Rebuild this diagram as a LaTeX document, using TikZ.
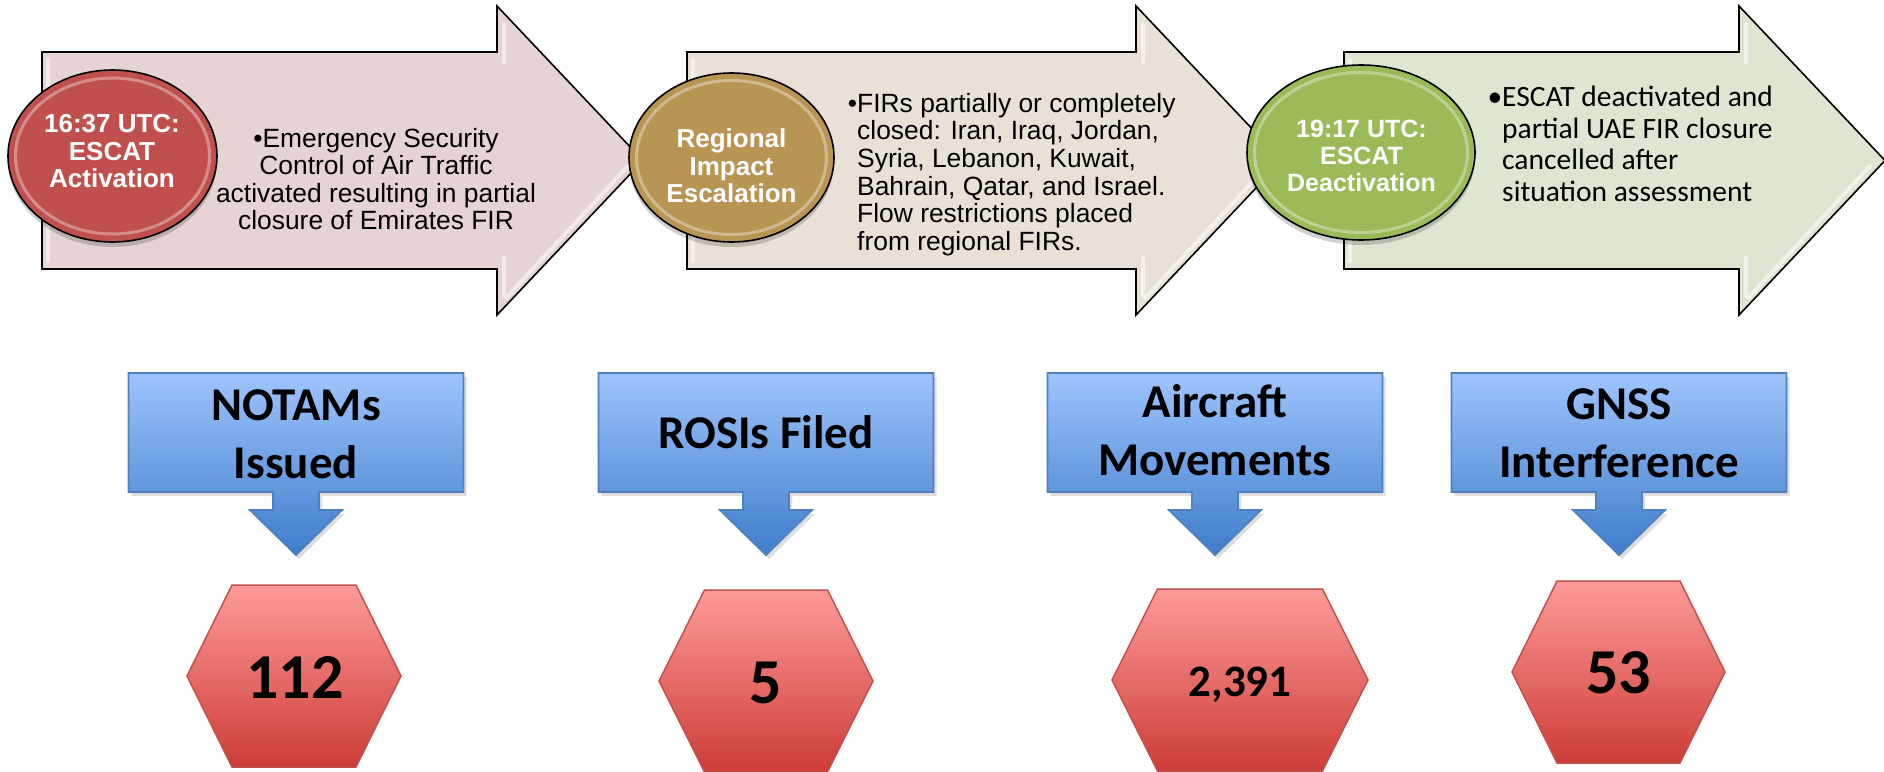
\documentclass[tikz,border=0pt]{standalone}
\usepackage{fontspec}
\newfontfamily\arialf{Liberation Sans}
\newfontfamily\calibrif{Carlito}
\definecolor{arrowA}{RGB}{230,211,212}
\definecolor{arrowB}{RGB}{233,225,213}
\definecolor{arrowC}{RGB}{222,230,209}
\definecolor{circA}{RGB}{192,80,77}
\definecolor{circB}{RGB}{185,149,83}
\definecolor{circC}{RGB}{155,187,89}
\definecolor{blueTop}{RGB}{158,196,253}
\definecolor{blueBot}{RGB}{62,125,202}
\definecolor{blueEdge}{RGB}{79,129,189}
\definecolor{hexTop}{RGB}{254,155,152}
\definecolor{hexBot}{RGB}{205,60,55}
\definecolor{hexEdge}{RGB}{190,80,77}
\newcommand{\tlarrow}[4]{%
  \path[arrowshape, fill=#4] (#1,52) -- (#2,52) -- (#2,6) -- (#3,160.5) -- (#2,315) -- (#2,269) -- (#1,269) -- cycle;
  \draw[bevel] ({#1+6},60) -- ({#1+6},261);
  \draw[bevel] ({#2+7},24) -- ({#2+7},62);
  \draw[bevel] ({#2+7},258) -- ({#2+7},296);
  \draw[bevel] ({#2+9},298) -- ({#3-15},166);
}
\newcommand{\calloutshape}[1]{%
  \path[callshadow] ({#1-167.5+3},377) -- ({#1+167.5+3},377) -- ({#1+167.5+3},496) -- ({#1+26},496) -- ({#1+26},514) -- ({#1+49},514) -- ({#1+3},559) -- ({#1-43},514) -- ({#1-20},514) -- ({#1-20},496) -- ({#1-167.5+3},496) -- cycle;
  \path[callout] ({#1-167.5},373) -- ({#1+167.5},373) -- ({#1+167.5},492) -- ({#1+23},492) -- ({#1+23},510) -- ({#1+46},510) -- (#1,555) -- ({#1-46},510) -- ({#1-23},510) -- ({#1-23},492) -- ({#1-167.5},492) -- cycle;
}
\newcommand{\hexshape}[4]{% center x, top y, half width, half top width
  \path[hexa] ({#1-#4},#2) -- ({#1+#4},#2) -- ({#1+#3},{#2+91}) -- ({#1+#4},{#2+182}) -- ({#1-#4},{#2+182}) -- ({#1-#3},{#2+91}) -- cycle;
}
\newcommand{\discshape}[4]{% cx, cy, rx, ry ... fill via style
  \fill[discshadow] (#1,{#2+5}) ellipse [x radius=#3pt, y radius=#4pt];
}
\begin{document}
\begin{tikzpicture}[x=1pt,y=-1pt,
  arrowshape/.style={draw=black, line width=1.6pt, line join=miter},
  bevel/.style={draw=white, opacity=.55, line width=4pt, line cap=round},
  disc/.style={draw=black, line width=1.6pt},
  gloss/.style={draw=white, opacity=.35, line width=3pt},
  discshadow/.style={fill=black, opacity=.18},
  disctext/.style={text=white, font=\arialf\bfseries\fontsize{26}{27.5}\selectfont, align=center, inner sep=0pt},
  bodytext/.style={font=\arialf\fontsize{26.4}{27.6}\selectfont, inner sep=0pt},
  greentext/.style={font=\calibrif\fontsize{29.5}{31.7}\selectfont, inner sep=0pt},
  callout/.style={draw=blueEdge, line width=1.8pt, top color=blueTop, bottom color=blueBot},
  callshadow/.style={fill=black, opacity=.13},
  calltext/.style={font=\calibrif\bfseries\fontsize{47}{58}\selectfont, align=center, inner sep=0pt},
  hexa/.style={draw=hexEdge, line width=1.5pt, top color=hexTop, bottom color=hexBot},
  hextext/.style={font=\calibrif\bfseries\fontsize{64}{70}\selectfont, inner sep=0pt, anchor=base}
]
\useasboundingbox (0,0) rectangle (1884,771);

% timeline arrows
\tlarrow{42}{497}{643}{arrowA}
\tlarrow{687}{1136}{1282}{arrowB}
\tlarrow{1344}{1739}{1885}{arrowC}

% discs
\discshape{112.5}{156}{104.5}{86}
\path[disc, fill=circA] (112.5,156) ellipse [x radius=104.5pt, y radius=86pt];
\draw[gloss] (112.5,156) ellipse [x radius=97pt, y radius=78pt];
\discshape{731.5}{157.5}{102.5}{84.5}
\path[disc, fill=circB] (731.5,157.5) ellipse [x radius=102.5pt, y radius=84.5pt];
\draw[gloss] (731.5,157.5) ellipse [x radius=95pt, y radius=77pt];
\discshape{1361}{152.5}{114}{87.5}
\path[disc, fill=circC] (1361,152.5) ellipse [x radius=114pt, y radius=87.5pt];
\draw[gloss] (1361,152.5) ellipse [x radius=106.5pt, y radius=80pt];

% disc labels
\node[disctext] (c1) at (112,151.5) {16:37 UTC:\\ESCAT\\Activation};
\node[disctext] (c2) at (731.5,166) {Regional\\Impact\\Escalation};
\node[disctext, font=\arialf\bfseries\fontsize{25}{27}\selectfont] (c3) at (1361.5,156) {19:17 UTC:\\ESCAT\\Deactivation};

% arrow texts
\node[bodytext, align=center] (t1) at (376,179) {•Emergency Security\\Control of Air Traffic\\activated resulting in partial\\closure of Emirates FIR};
\node[bodytext, align=left, anchor=west] (t2) at (857,174.4) {\llap{•}FIRs partially or completely\\closed: Iran, Iraq, Jordan,\\Syria, Lebanon, Kuwait,\\Bahrain, Qatar, and Israel.\\Flow restrictions placed\\from regional FIRs.};
\node[greentext, align=left, anchor=west] (t3) at (1502,144) {\llap{•}ESCAT deactivated and\\partial UAE FIR closure\\cancelled after\\situation assessment};

% callouts
\calloutshape{296}
\calloutshape{766}
\calloutshape{1215}
\calloutshape{1619}
\node[calltext] (b1) at (296,434) {NOTAMs\\Issued};
\node[calltext, anchor=base] (b2) at (766,448) {ROSIs Filed};
\node[calltext] (b3) at (1215,430.5) {Aircraft\\Movements};
\node[calltext] (b4) at (1619,433.7) {GNSS\\Interference};

% hexagons
\hexshape{294}{585}{107}{62}
\hexshape{766}{590}{107}{61.5}
\hexshape{1240}{589}{128}{82.5}
\hexshape{1618.5}{581}{106.5}{61.5}
\node[hextext] (h1) at (295,698) {112};
\node[hextext] (h2) at (766,703) {5};
\node[hextext, font=\calibrif\bfseries\fontsize{45}{50}\selectfont] (h3) at (1240,696) {2,391};
\node[hextext] (h4) at (1618.5,693) {53};
\end{tikzpicture}
\end{document}
